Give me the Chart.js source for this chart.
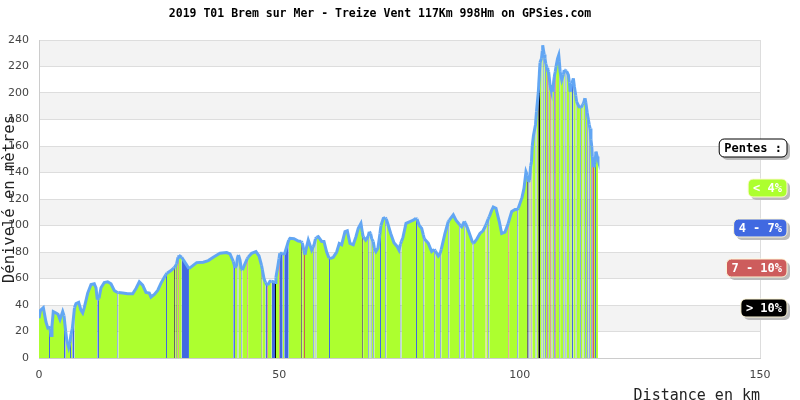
<!DOCTYPE html>
<html>
<head>
<meta charset="utf-8">
<script src="https://cdn.jsdelivr.net/npm/chart.js@4"></script>
<style>
  html, body { margin: 0; padding: 0; background: #fff; }
</style>
</head>
<body>
<canvas id="profil" width="800" height="400"></canvas>
<script>
const titre = '2019 T01 Brem sur Mer - Treize Vent 117Km 998Hm on GPSies.com';
const categories = ['< 4%', '4 - 7%', '7 - 10%', '> 10%'];
const couleurs = ['#adff2f', '#4169e1', '#cd5c5c', '#000000'];
const xTicks = [0, 50, 100, 150];
const yTicks = [0, 20, 40, 60, 80, 100, 120, 140, 160, 180, 200, 220, 240];

// profil : distance (km), altitude (m), classe de pente du troncon suivant
const distanceKm = [
  0, 0.31, 0.9, 1.46, 1.81, 2.08, 2.29, 2.5, 2.7, 2.97, 3.54, 3.95, 4.37, 4.93, 5.2, 5.55, 5.76, 6.18, 6.45, 6.66,
  6.93, 7.39, 7.7, 8.26, 8.74, 9.09, 9.42, 10.13, 10.82, 11.5, 11.86, 12.13, 12.48, 12.9, 13.58, 14.29, 14.98, 15.66, 16.29, 16.5,
  17.41, 18.45, 19.49, 20.18, 20.87, 21.57, 22.26, 22.95, 23.3, 24.0, 24.69, 25.38, 26.07, 26.42, 26.63, 27.46, 28.08, 28.25, 28.46, 28.63,
  28.92, 29.08, 29.69, 31.2, 32.8, 34.18, 35.22, 36.26, 37.65, 39.05, 39.73, 40.42, 40.77, 41.09, 41.3, 41.5, 41.81, 42.09, 42.29, 42.85,
  43.33, 43.5, 44.25, 45.14, 45.77, 46.29, 46.45, 46.81, 47.12, 47.43, 47.6, 48.05, 48.41, 49.1, 49.3, 49.72, 49.93, 50.1, 50.7, 51.03,
  51.95, 52.22, 53.05, 53.94, 54.57, 54.76, 55.13, 55.34, 55.55, 56.02, 56.73, 57.06, 57.27, 57.52, 57.73, 58.1, 58.81, 59.29, 59.85, 60.33,
  60.54, 61.22, 61.93, 62.47, 62.97, 63.66, 64.14, 64.7, 65.38, 65.94, 66.42, 66.98, 67.26, 67.44, 67.96, 68.5, 68.71, 69.0, 69.21, 69.54,
  69.75, 70.1, 70.52, 70.94, 71.15, 71.63, 72.04, 72.25, 72.6, 73.17, 73.85, 74.54, 74.89, 75.2, 75.41, 75.72, 76.35, 77.18, 77.87, 78.43,
  78.64, 79.12, 79.62, 79.95, 80.16, 80.66, 80.99, 81.69, 82.23, 82.44, 83.07, 83.48, 83.69, 84.46, 85.15, 85.36, 86.19, 86.75, 87.44, 87.65,
  87.94, 88.48, 88.69, 89.15, 89.66, 90.22, 90.43, 91.12, 91.74, 92.37, 92.93, 93.1, 93.47, 93.68, 94.13, 94.51, 95.07, 95.76, 96.26, 96.94,
  97.63, 97.8, 98.34, 99.03, 99.5, 99.71, 100.06, 100.48, 100.9, 101.31, 101.58, 101.83, 102.04, 102.29, 102.46, 102.62, 102.87, 103.29, 103.5, 103.87,
  104.23, 104.54, 104.71, 104.79, 104.92, 105.11, 105.27, 105.44, 105.69, 105.86, 106.03, 106.32, 106.48, 106.67, 106.84, 107.19, 107.4, 107.57, 107.88, 108.13,
  108.25, 108.42, 108.75, 109.09, 109.26, 109.51, 109.76, 110.13, 110.34, 110.51, 110.84, 111.17, 111.38, 111.67, 111.84, 112.34, 112.54, 112.71, 113.11, 113.27,
  113.59, 113.75, 114.06, 114.31, 114.48, 114.65, 114.83, 115.0, 115.1, 115.46, 115.67, 115.87, 116.14, 116.29
];
const altitudeM = [
  30, 36, 38, 27, 23, 24, 22, 17, 24, 35, 34, 33, 29, 35, 32, 20, 14, 8, 12, 18,
  22, 38, 41, 42, 36, 34, 38, 49, 55.5, 56, 53, 44, 45, 53, 57, 57.5, 56, 51, 49.5, 49.5,
  49, 48.5, 48.5, 52.5, 57.5, 55, 49.5, 49, 46, 48, 51, 56.5, 61, 63, 64, 66, 68, 68.5, 70, 71,
  76, 77.5, 76, 67.5, 72, 72.3, 73.5, 76, 79, 79.6, 78.5, 73, 68, 70, 76, 77.7, 74, 67, 66.4, 71,
  75, 76, 79, 80.3, 77, 70, 67, 60, 57, 55, 55, 58, 58, 57, 61, 70, 75, 79, 79, 78,
  89, 90.3, 90, 88.3, 88, 87, 81, 78, 82, 89, 81.5, 84, 86, 90, 91, 91.6, 88, 88, 80, 75.5,
  75, 76, 80, 86.5, 85.5, 95.3, 96, 86.5, 85.5, 91.5, 97.8, 101.6, 95, 91.6, 89, 92, 95.3, 94, 90, 88,
  83, 80.3, 83, 94, 100, 105.4, 106, 105, 101, 94, 87, 84, 81.5, 86, 88, 91, 101.6, 103, 104, 105.4,
  105, 100, 97.8, 93, 90, 88, 86.5, 80.3, 82, 81, 77, 79, 82, 94, 103, 104, 108, 104, 101, 100,
  99, 103, 102, 98, 92.8, 87, 86.5, 90, 94, 96, 100, 101.6, 105, 106.6, 111, 114, 113, 103, 94, 95,
  101.6, 104, 110.6, 112, 112, 113, 116.7, 121, 128, 140.6, 138, 133, 134, 145, 148, 160, 168, 176, 186, 200,
  223, 226, 232, 236, 233, 229, 226, 222, 219, 217, 216, 206, 203.5, 202, 201, 212, 216, 220, 226, 228.7,
  224, 216, 210, 214, 217.4, 217, 216.5, 213.6, 208, 201, 207, 211, 205, 198, 193.5, 189.7, 189, 189, 191, 192.2,
  196, 193, 185, 179.6, 176, 173.3, 165, 159.5, 152, 144, 147, 155.7, 152, 150
];
// 0 = < 4%, 1 = 4 - 7%, 2 = 7 - 10%, 3 = > 10%
const pente = [
  0, 0, 0, 0, 0, 1, 0, 0, 0, 0, 0, 0, 0, 0, 1, 0, 0, 0, 1, 0,
  1, 0, 0, 0, 0, 0, 0, 0, 0, 0, 0, 1, 0, 0, 0, 0, 0, 0, 1, 0,
  0, 0, 0, 0, 0, 0, 0, 0, 0, 0, 0, 0, 0, 1, 0, 0, 3, 0, 3, 0,
  2, 0, 1, 0, 0, 0, 0, 0, 0, 0, 0, 1, 0, 0, 1, 0, 0, 1, 0, 0,
  2, 0, 0, 0, 0, 3, 0, 0, 1, 2, 0, 0, 1, 3, 0, 0, 2, 1, 0, 1,
  0, 0, 0, 0, 3, 0, 2, 0, 0, 0, 0, 1, 0, 1, 0, 0, 0, 0, 0, 1,
  0, 0, 0, 0, 0, 0, 0, 0, 0, 0, 0, 0, 3, 0, 0, 1, 0, 1, 0, 1,
  0, 0, 0, 1, 0, 0, 1, 0, 0, 0, 0, 0, 0, 1, 0, 0, 0, 0, 0, 1,
  0, 0, 0, 1, 0, 0, 0, 0, 1, 0, 0, 1, 0, 0, 1, 0, 0, 0, 1, 0,
  0, 1, 0, 0, 0, 1, 0, 0, 0, 0, 2, 0, 1, 0, 0, 0, 0, 0, 0, 0,
  2, 0, 0, 0, 1, 0, 0, 0, 0, 0, 3, 1, 0, 2, 1, 0, 0, 1, 0, 3,
  0, 1, 0, 0, 1, 0, 1, 0, 2, 1, 0, 2, 0, 1, 0, 1, 2, 0, 0, 0,
  1, 0, 0, 1, 0, 1, 0, 0, 1, 0, 1, 0, 0, 1, 0, 0, 1, 0, 1, 0,
  1, 0, 1, 0, 1, 0, 1, 0, 2, 0, 1, 0, 0, 0
];

const points = distanceKm.map((d, i) => ({ x: d, y: altitudeM[i] }));

// bandes grises alternees + cadre droit
const fondPlugin = {
  id: 'fond',
  beforeDraw(chart) {
    const { ctx, chartArea: a, scales: { y } } = chart;
    ctx.save();
    ctx.fillStyle = '#f3f3f3';
    for (let v = 20; v < 240; v += 40) {
      const top = y.getPixelForValue(v + 20);
      const bot = y.getPixelForValue(v);
      ctx.fillRect(a.left, top, a.right - a.left, bot - top);
    }
    ctx.restore();
  },
  beforeDatasetsDraw(chart) {
    const { ctx, chartArea: a } = chart;
    ctx.save();
    ctx.strokeStyle = '#dddddd';
    ctx.lineWidth = 1;
    ctx.beginPath();
    ctx.moveTo(Math.round(a.right) + 0.5, a.top);
    ctx.lineTo(Math.round(a.right) + 0.5, a.bottom);
    ctx.stroke();
    ctx.restore();
  }
};

function boite(ctx, x, y, w, h, r) {
  ctx.beginPath();
  ctx.moveTo(x + r, y);
  ctx.arcTo(x + w, y, x + w, y + h, r);
  ctx.arcTo(x + w, y + h, x, y + h, r);
  ctx.arcTo(x, y + h, x, y, r);
  ctx.arcTo(x, y, x + w, y, r);
  ctx.closePath();
}

// legende des pentes a droite
const pentesPlugin = {
  id: 'pentes',
  afterDraw(chart) {
    const ctx = chart.ctx;
    const items = [{ t: 'Pentes :', bg: '#ffffff', fg: '#000000', bord: '#000000' }]
      .concat(categories.map((c, i) => ({ t: c, bg: couleurs[i], fg: '#ffffff', bord: '#fff8d8' })));
    ctx.save();
    ctx.font = 'bold 12px "DejaVu Sans Mono"';
    ctx.textBaseline = 'middle';
    ctx.textAlign = 'right';
    items.forEach((it, i) => {
      const cy = 148 + i * 40;
      const w = ctx.measureText(it.t).width + 10;
      const x = 787 - w, y = cy - 9, h = 18;
      ctx.fillStyle = '#bbbbbb';
      boite(ctx, x + 3, y + 3, w, h, 5);
      ctx.fill();
      ctx.fillStyle = it.bg;
      boite(ctx, x, y, w, h, 5);
      ctx.fill();
      ctx.strokeStyle = it.bord;
      ctx.lineWidth = 1;
      ctx.stroke();
      ctx.fillStyle = it.fg;
      ctx.fillText(it.t, 782, cy + 1);
    });
    ctx.restore();
  }
};

new Chart(document.getElementById('profil'), {
  type: 'line',
  data: {
    datasets: [{
      data: points,
      borderColor: '#62a6f3',
      borderWidth: 3,
      backgroundColor: couleurs[0],
      fill: 'origin',
      pointRadius: 0,
      tension: 0,
      segment: {
        backgroundColor: c => couleurs[pente[c.p0DataIndex]]
      }
    }]
  },
  options: {
    responsive: false,
    animation: false,
    devicePixelRatio: 1,
    layout: { padding: { left: 0, right: 40, top: 0, bottom: 0 } },
    plugins: {
      legend: { display: false },
      tooltip: { enabled: false },
      title: {
        display: true,
        text: titre,
        color: '#000',
        font: { family: 'DejaVu Sans Mono', size: 11.5, weight: 'bold' },
        padding: { top: 7, bottom: 19.2 }
      }
    },
    scales: {
      x: {
        type: 'linear',
        min: 0,
        max: 150,
        afterBuildTicks: s => { s.ticks = xTicks.map(v => ({ value: v })); },
        afterFit: s => { s.height = 42; },
        grid: { display: false, drawTicks: false },
        border: { display: true, color: '#cccccc' },
        ticks: { color: '#444', padding: 11, maxRotation: 0, font: { family: 'DejaVu Sans', size: 11 } },
        title: {
          display: true,
          text: 'Distance en km',
          align: 'end',
          color: '#222',
          font: { family: 'DejaVu Sans Mono', size: 15 },
          padding: { top: 0, bottom: -5 }
        }
      },
      y: {
        min: 0,
        max: 240,
        afterBuildTicks: s => { s.ticks = yTicks.map(v => ({ value: v })); },
        afterFit: s => { s.width = 39; },
        grid: { color: '#dddddd', drawTicks: false },
        border: { display: true, color: '#cccccc' },
        ticks: { color: '#444', padding: 10, font: { family: 'DejaVu Sans', size: 11 } },
        title: {
          display: true,
          text: 'Dénivelé en mètres',
          color: '#222',
          font: { family: 'DejaVu Sans Mono', size: 15.5 },
          padding: { top: 1, bottom: 0 }
        }
      }
    }
  },
  plugins: [fondPlugin, pentesPlugin]
});
</script>
</body>
</html>
